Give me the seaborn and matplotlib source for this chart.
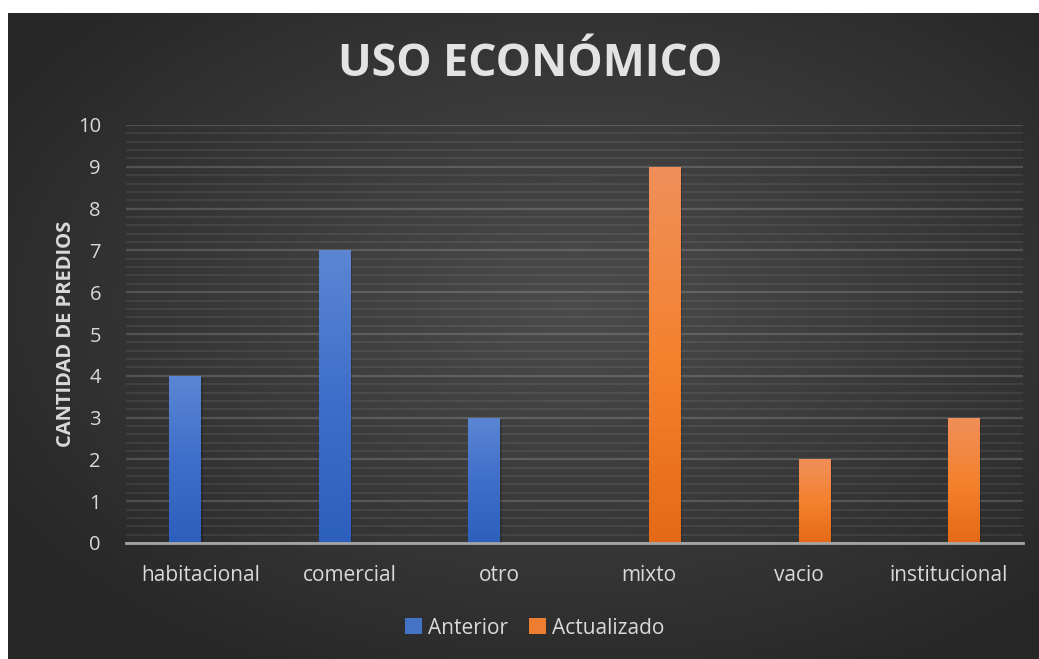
import numpy as np
import pandas as pd
import matplotlib
matplotlib.use("Agg")
import matplotlib.pyplot as plt
import seaborn as sns
from matplotlib.colors import LinearSegmentedColormap
from matplotlib.patches import Patch

# data
categorias = ["habitacional", "comercial", "otro", "mixto", "vacio", "institucional"]
anterior_cat = ["habitacional", "comercial", "otro"]
anterior_val = [4, 7, 3]
actualizado_cat = ["mixto", "vacio", "institucional"]
actualizado_val = [9, 2, 3]
series = ["Anterior", "Actualizado"]

df = pd.concat([
    pd.DataFrame({"uso": anterior_cat, "serie": "Anterior", "predios": anterior_val}),
    pd.DataFrame({"uso": actualizado_cat, "serie": "Actualizado", "predios": actualizado_val}),
], ignore_index=True)

sns.set_theme(style="dark")
plt.rcParams["font.family"] = ["Open Sans", "DejaVu Sans"]

txt = "#d9d9d9"
blue, orange = "#4472c4", "#ed7d31"

fig = plt.figure(figsize=(10.39, 6.59), dpi=100, facecolor="white")

# dark radial background (chart area)
bg = fig.add_axes([8 / 1039, 0, 1 - 8 / 1039, (659 - 13) / 659], zorder=0)
yy, xx = np.mgrid[-1:1:300j, -1:1:480j]
r = np.sqrt((xx - 0.1) ** 2 + (yy - 0.1) ** 2)
r = np.clip(r / 1.3, 0, 1)
bg_cmap = LinearSegmentedColormap.from_list("bg", ["#4b4b4b", "#3a3a3a", "#272727"])
bg.imshow(r, cmap=bg_cmap, aspect="auto", extent=(0, 1, 0, 1), vmin=0, vmax=1, origin="lower")
bg.set_axis_off()

ax = fig.add_axes([126 / 1039, 116 / 659, (1023 - 126) / 1039, (543 - 125) / 659], zorder=1)
ax.set_facecolor("none")

sns.barplot(data=df, x="uso", y="predios", hue="serie", order=categorias,
            hue_order=series, palette=[blue, orange], saturation=1, width=0.42,
            dodge=True, legend=False, ax=ax, linewidth=0, zorder=3)

# gradient fills on the bars
grads = {
    "Anterior": LinearSegmentedColormap.from_list("b", ["#2d5fbd", "#3f6fca", "#5c86d4"]),
    "Actualizado": LinearSegmentedColormap.from_list("o", ["#e56a17", "#f4822f", "#f08f5a"]),
}
grad = np.linspace(0, 1, 100).reshape(-1, 1)
for key, cont in zip(series, list(ax.containers)):
    for p in cont.patches:
        h = p.get_height()
        if not h or np.isnan(h):
            continue
        x0 = p.get_x()
        w = p.get_width()
        # soft shadow to the right
        ax.bar(x0 + w / 2 + 0.012, h, width=w, bottom=-0.05, color="black",
               alpha=0.18, zorder=2, linewidth=0)
        im = ax.imshow(grad, cmap=grads[key], aspect="auto", origin="lower",
                       extent=(x0, x0 + w, 0, h), zorder=4)
        im.set_clip_path(p)

ax.set_xlim(-0.5, len(categorias) - 0.5)
ax.set_ylim(0, 10)
ax.set_yticks(range(0, 11))
ax.set_yticks(np.arange(0, 10.01, 0.2), minor=True)
ax.grid(axis="y", which="major", color="white", alpha=0.16, linewidth=1.6, zorder=1)
ax.grid(axis="y", which="minor", color="white", alpha=0.08, linewidth=1.3, zorder=1)
ax.grid(axis="x", visible=False)

for s in ["top", "right", "left"]:
    ax.spines[s].set_visible(False)
ax.spines["bottom"].set_color("#a6a6a6")
ax.spines["bottom"].set_linewidth(2)
ax.spines["bottom"].set_zorder(5)

ax.tick_params(axis="both", which="both", length=0, colors=txt, labelsize=14.5)
ax.tick_params(axis="x", pad=16, labelsize=15)
ax.tick_params(axis="y", pad=18)
ax.set_xlabel("")
ax.set_ylabel("CANTIDAD DE PREDIOS", color=txt, fontsize=14.5, fontweight="bold")
ax.yaxis.set_label_coords(-0.056, 0.5)

fig.text(530 / 1039, 1 - 64 / 659, "USO ECONÓMICO", ha="center", va="center",
         color="#e3e3e3", fontsize=32, fontweight="bold")

handles = [Patch(facecolor=blue, edgecolor="none", label="Anterior"),
           Patch(facecolor=orange, edgecolor="none", label="Actualizado")]
fig.legend(handles=handles, loc="center", bbox_to_anchor=(535 / 1039, 1 - 628 / 659),
           ncol=2, frameon=False, labelcolor=txt, fontsize=15,
           handlelength=0.8, handleheight=0.8, handletextpad=0.3, columnspacing=1.0)

plt.savefig("out.png", dpi=100, facecolor="white")
plt.close()
